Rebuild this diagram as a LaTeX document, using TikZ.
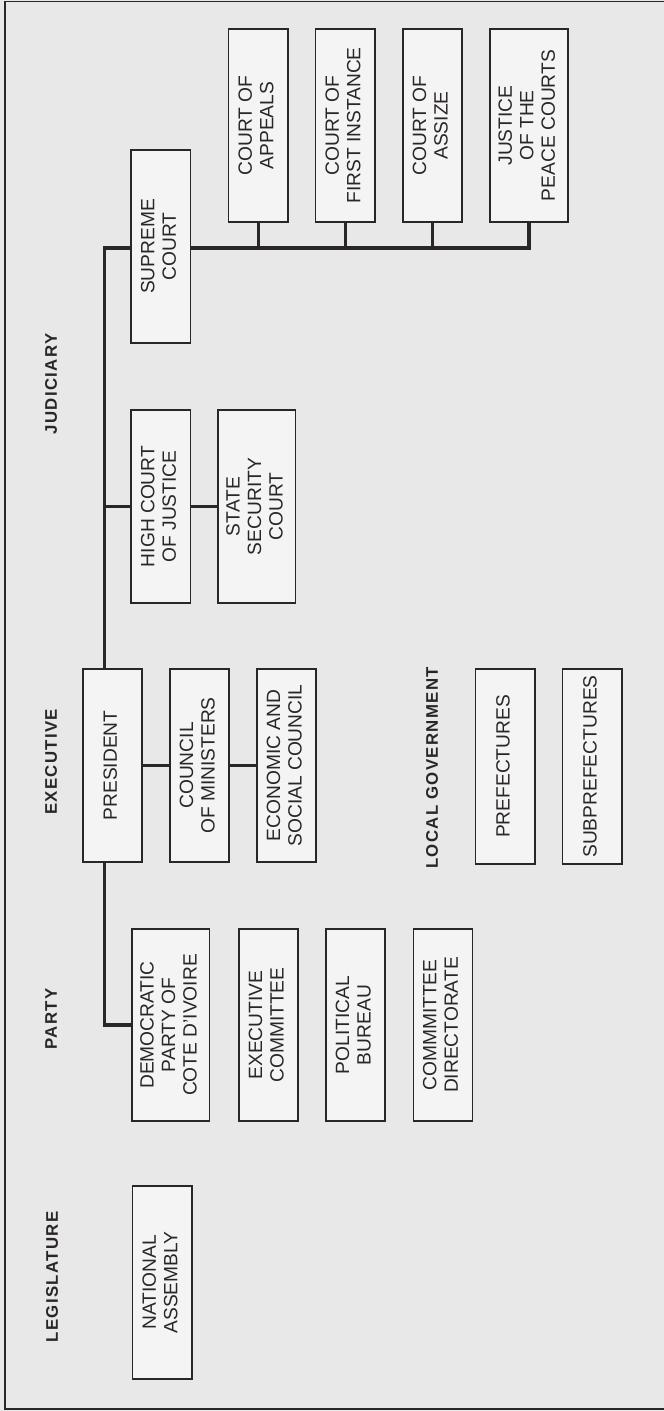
\documentclass[tikz,border=0pt]{standalone}
\usepackage{fontspec}
\setmainfont{Liberation Sans}
\usepackage{graphicx}
\definecolor{paper}{HTML}{E8E8E8}
\definecolor{boxfill}{HTML}{F4F4F4}
\definecolor{ink}{HTML}{2A2626}
\newcommand{\bx}[1]{\rotatebox{90}{\begin{tabular}{@{}c@{}}#1\end{tabular}}}
\newcommand{\lb}[1]{\rotatebox{90}{\addfontfeatures{LetterSpace=8}\bfseries #1}}
\tikzset{
  orgbox/.style={draw=ink, fill=boxfill, line width=1.3pt, inner sep=0pt,
    minimum width=59.5pt, minimum height=193pt, text=ink,
    font=\fontsize{19.2}{21.5}\selectfont},
  widebox/.style={orgbox, minimum width=77.6pt},
  heading/.style={inner sep=0pt, text=ink, font=\fontsize{16.8}{19}\selectfont},
  conn/.style={draw=ink, line width=3.4pt, line cap=butt}
}
\begin{document}
\begin{tikzpicture}[x={(1pt,0pt)}, y={(0pt,-1pt)}]
\useasboundingbox (0,0) rectangle (664,1411);
\fill[paper] (0,0) rectangle (664,1411);
\draw[ink, line width=1.2pt] (664,1.5) -- (5,1.5) -- (5,1409) -- (664,1409);

% headings
\node[heading] (hleg) at (52,1277) {\lb{LEGISLATURE}};
\node[heading] (hparty) at (51,1019) {\lb{PARTY}};
\node[heading] (hexec) at (51,762) {\lb{EXECUTIVE}};
\node[heading] (hjud) at (51,384) {\lb{JUDICIARY}};
\node[heading] (hloc) at (432,768) {\lb{LOCAL GOVERNMENT}};

% legislature
\node[orgbox] (natl) at (162.2,1282.5) {\bx{NATIONAL\\ASSEMBLY}};

% party
\node[widebox, minimum height=192pt] (dem) at (170.8,1025) {\bx{DEMOCRATIC\\PARTY OF\\COTE D'IVOIRE}};
\node[orgbox, minimum width=59pt, minimum height=192pt] (execc) at (268.5,1025) {\bx{EXECUTIVE\\COMMITTEE}};
\node[orgbox, minimum width=59pt, minimum height=192pt] (polit) at (355.5,1025) {\bx{POLITICAL\\BUREAU}};
\node[orgbox, minimum width=59pt, minimum height=192pt] (commm) at (442.8,1025) {\bx{COMMMITTEE\\DIRECTORATE}};

% executive
\node[orgbox, minimum width=59pt] (pres) at (112.5,765.5) {\bx{PRESIDENT}};
\node[orgbox, minimum width=59pt] (council) at (199.5,765.5) {\bx{COUNCIL\\OF MINISTERS}};
\node[orgbox, minimum width=59pt] (econ) at (286.5,765.5) {\bx{ECONOMIC AND\\SOCIAL COUNCIL}};

% local government
\node[orgbox, minimum height=195pt] (pref) at (505.3,766.5) {\bx{PREFECTURES}};
\node[orgbox, minimum height=195pt] (subpref) at (592.3,766.5) {\bx{SUBPREFECTURES}};

% judiciary
\node[orgbox] (high) at (160.8,506.5) {\bx{HIGH COURT\\OF JUSTICE}};
\node[widebox] (state) at (256.8,506.5) {\bx{STATE\\SECURITY\\COURT}};
\node[orgbox] (supreme) at (160.8,246.5) {\bx{SUPREME\\COURT}};
\node[orgbox, minimum width=59.3pt] (appeals) at (258.4,125.5) {\bx{COURT OF\\APPEALS}};
\node[orgbox, minimum width=59.3pt] (first) at (345.2,125.5) {\bx{COURT OF\\FIRST INSTANCE}};
\node[orgbox, minimum width=59pt] (assize) at (432.5,125.5) {\bx{COURT OF\\ASSIZE}};
\node[widebox, minimum width=78pt] (peace) at (529,125.5) {\bx{JUSTICE\\OF THE\\PEACE COURTS}};

% connectors
\coordinate (sp) at (104.6,248);
\draw[conn] (supreme.west |- sp) -- (sp) -- (sp |- pres.north);
\draw[conn] (supreme.east |- sp) -- (peace.south |- sp) -- (peace.south);
\draw[conn] (appeals.south) -- (appeals.south |- sp);
\draw[conn] (first.south) -- (first.south |- sp);
\draw[conn] (assize.south) -- (assize.south |- sp);
\draw[conn] (sp |- high.west) -- (high.west);
\draw[conn] (high.east) -- (state.west);
\draw[conn] (pres.east) -- (council.west);
\draw[conn] (council.east) -- (econ.west);
\draw[conn] (sp |- pres.south) -- (sp |- dem.west) -- (dem.west);
\end{tikzpicture}
\end{document}
